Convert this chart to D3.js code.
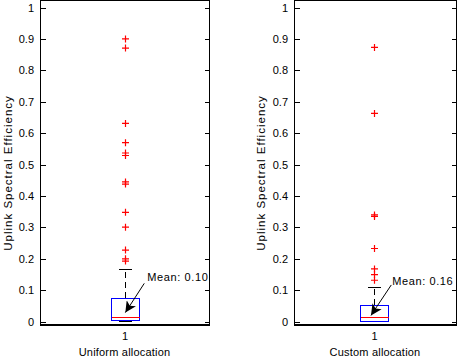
<!DOCTYPE html>
<html><head><meta charset="utf-8">
<script src="https://cdn.jsdelivr.net/npm/d3@7"></script>
<style>body{margin:0;background:#fff}svg{display:block}text{font-family:"Liberation Sans",Arial,sans-serif;font-size:11px;fill:#000}</style>
</head><body><div id="c"></div>
<script>
const yTicks = [0,0.1,0.2,0.3,0.4,0.5,0.6,0.7,0.8,0.9,1];
const xLabels = ["Uniform allocation","Custom allocation"];
const yLabel = "Uplink Spectral Efficiency";
// box stats: [lowerWhisker, q1, median, q3, upperWhisker]
const uniformStats = [0.0, 0.004, 0.014, 0.075, 0.167];
const customStats  = [0.0, 0.001, 0.012, 0.052, 0.110];
const uniformOutliers = [0.900,0.871,0.631,0.570,0.537,0.529,0.445,0.438,0.348,0.301,0.228,0.200,0.193];
const customOutliers  = [0.873,0.663,0.340,0.335,0.233,0.168,0.150,0.132];
const meanText = ["Mean: 0.10","Mean: 0.16"];
// annotation in data units: [textX, textY, fromX, fromY, tipX, tipY]
const meanAnno = [[1.135,0.130,1.117,0.122,1.005,0.029],[1.114,0.117,1.108,0.117,0.981,0.020]];

const W=457,H=357;
const svg=d3.select("#c").append("svg").attr("width",W).attr("height",H);
const panels=[
  {x0:40,x1:209,xd:[0.5,1.5],stats:uniformStats,out:uniformOutliers,lab:xLabels[0],mt:meanText[0],ma:meanAnno[0],yl:8},
  {x0:294,x1:456,xd:[0.5,1.5125],stats:customStats,out:customOutliers,lab:xLabels[1],mt:meanText[1],ma:meanAnno[1],yl:261}
];
const y=d3.scaleLinear().domain([-0.0105,1.024]).range([325,0]);
svg.append("defs").append("marker").attr("id","ah").attr("viewBox","0 0 10 10").attr("refX",10).attr("refY",5)
  .attr("markerWidth",13).attr("markerHeight",11).attr("markerUnits","userSpaceOnUse").attr("orient","auto")
  .append("path").attr("d","M0,0L10,5L0,10L2.5,5Z").attr("fill","#000");

panels.forEach(p=>{
  const x=d3.scaleLinear().domain(p.xd).range([p.x0,p.x1]);
  const g=svg.append("g");
  const ya=g.append("g").attr("transform",`translate(${p.x0+0.5},0)`).call(d3.axisLeft(y).tickValues(yTicks).tickSizeInner(-5).tickSizeOuter(0).tickPadding(6.5).tickFormat(d=>d===0||d===1?d3.format("d")(d):d3.format(".1f")(d)));
  ya.select(".domain").remove();
  ya.selectAll("line").attr("stroke","#000").attr("shape-rendering","crispEdges");
  const yr=g.append("g").attr("transform",`translate(${p.x1+0.5},0)`).call(d3.axisRight(y).tickValues(yTicks).tickSizeInner(-5).tickSizeOuter(0).tickFormat(""));
  yr.select(".domain").remove();
  yr.selectAll("line").attr("shape-rendering","crispEdges");
  const xa=g.append("g").attr("transform",`translate(0,325)`).call(d3.axisBottom(x).tickValues([1]).tickSizeInner(0).tickSizeOuter(0).tickPadding(7).tickFormat(d3.format("d")));
  xa.select(".domain").remove();
  g.append("rect").attr("x",p.x0+0.5).attr("y",0.5).attr("width",p.x1-p.x0).attr("height",324.5).attr("fill","none").attr("stroke","#000").attr("stroke-width",1.3).attr("shape-rendering","crispEdges");
  g.append("text").attr("x",(p.x0+p.x1)/2).attr("y",356).attr("text-anchor","middle").style("letter-spacing","0.2px").text(p.lab);
  g.append("text").attr("transform",`translate(${p.yl},173) rotate(-90)`).attr("text-anchor","middle").attr("dy","0.35em").style("font-size","11.5px").style("letter-spacing","1px").text(yLabel);
  const s=p.stats, cx=Math.round(x(1))+0.5;
  const bw=14, cw=6.7;
  g.append("line").attr("x1",cx).attr("x2",cx).attr("y1",y(s[3])).attr("y2",y(s[4])).attr("stroke","#000").attr("stroke-dasharray","6,4").attr("shape-rendering","crispEdges");
  g.append("line").attr("x1",cx-cw).attr("x2",cx+cw).attr("y1",y(s[4])).attr("y2",y(s[4])).attr("stroke","#000").attr("shape-rendering","crispEdges");
  g.append("line").attr("x1",cx-cw).attr("x2",cx+cw).attr("y1",y(s[0])).attr("y2",y(s[0])).attr("stroke","#000").attr("shape-rendering","crispEdges");
  g.append("rect").attr("x",cx-bw).attr("width",2*bw).attr("y",y(s[3])).attr("height",y(s[1])-y(s[3])).attr("fill","none").attr("stroke","#0000ff").attr("shape-rendering","crispEdges");
  g.append("line").attr("x1",cx-bw).attr("x2",cx+bw).attr("y1",y(s[2])).attr("y2",y(s[2])).attr("stroke","#ff0000").attr("shape-rendering","crispEdges");
  g.selectAll("path.o").data(p.out).enter().append("path").attr("class","o")
    .attr("d",d=>`M${cx-3.5},${y(d)}H${cx+3.5}M${cx},${y(d)-3.5}V${y(d)+3.5}`).attr("stroke","#ff0000").attr("stroke-width",1.2);
  const a=p.ma;
  g.append("line").attr("x1",x(a[2])).attr("y1",y(a[3])).attr("x2",x(a[4])).attr("y2",y(a[5])).attr("stroke","#000").attr("marker-end","url(#ah)");
  g.append("text").attr("x",x(a[0])).attr("y",y(a[1])).style("letter-spacing","0.6px").text(p.mt);
});
</script></body></html>
